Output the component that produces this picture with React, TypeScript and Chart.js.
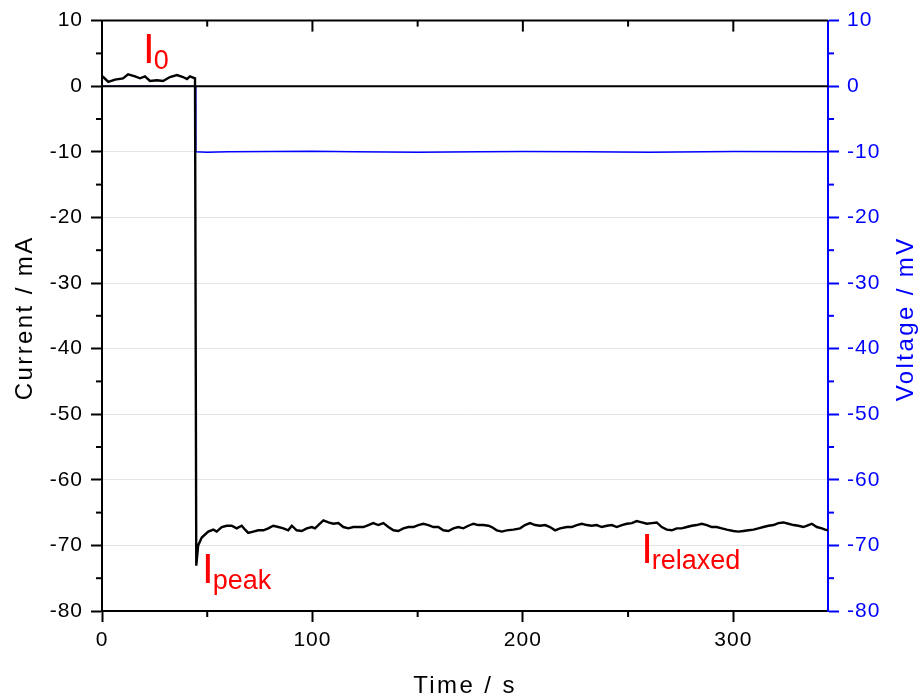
import React, { useEffect, useRef } from "react";
import { Chart, registerables } from "chart.js";

Chart.register(...registerables);

// ---- Data ----
const timeS = [
  0, 0.6, 3.0, 6.2, 10.0, 12.4, 15.7, 18.1, 20.4, 22.8, 26.1, 29.0, 32.3, 35.6, 38.5, 40.4, 41.8, 44.2, 44.6,
  44.8, 45.7, 47.4, 50.5, 52.9, 54.5, 56.9, 59.3, 61.6, 64.0,
  66.4, 68.0, 69.5, 71.9, 74.3, 76.7, 79.0, 81.4, 83.8, 86.2,
  88.5, 90.2, 92.5, 94.9, 97.3, 99.7, 101.2, 102.8, 105.2, 107.6,
  109.9, 112.3, 114.7, 117.1, 119.4, 121.8, 124.2, 126.6, 128.9, 131.3,
  133.7, 136.1, 138.5, 140.8, 143.2, 145.6, 148.0, 150.3, 152.7, 155.1,
  157.5, 159.8, 162.2, 164.6, 167.0, 169.3, 171.7, 174.1, 176.5, 178.8,
  181.2, 183.6, 185.2, 187.6, 190.0, 192.3, 195.5, 198.7, 201.0, 203.4,
  205.8, 208.2, 210.6, 212.9, 215.3, 217.7, 220.9, 223.2, 225.6, 228.0,
  230.4, 232.7, 235.1, 237.5, 239.9, 242.3, 244.6, 247.0, 249.4, 251.8,
  254.1, 256.5, 258.9, 261.3, 263.6, 266.0, 268.4, 270.8, 273.1, 275.5,
  277.9, 280.3, 282.6, 285.0, 287.4, 289.8, 292.1, 294.5, 296.9, 300.0,
  302.4, 304.8, 307.2, 309.6, 311.9, 314.3, 316.7, 319.1, 321.4, 323.8,
  326.2, 328.6, 330.9, 333.3, 335.7, 337.3, 339.7, 342.1, 343.6, 345,
];
const currentMA = [
  1.5, 1.4, 0.65, 1.0, 1.2, 1.8, 1.5, 1.2, 1.5, 0.8, 0.9, 0.8, 1.4, 1.7, 1.4, 1.1, 1.5, 1.2, 1.2,
  -73.1, -70.0, -68.8, -67.9, -67.6, -67.9, -67.2, -67.0, -67.0, -67.4,
  -67.0, -67.6, -68.1, -67.9, -67.7, -67.7, -67.4, -67.0, -67.2, -67.4,
  -67.7, -67.0, -67.7, -67.8, -67.4, -67.2, -67.4, -66.9, -66.2, -66.5,
  -66.7, -66.6, -67.2, -67.4, -67.2, -67.2, -67.2, -66.9, -66.6, -66.9,
  -66.6, -67.2, -67.7, -67.8, -67.4, -67.2, -67.2, -66.9, -66.7, -66.9,
  -67.2, -67.2, -67.7, -67.8, -67.4, -67.2, -67.4, -67.0, -66.7, -66.9,
  -66.9, -67.0, -67.2, -67.7, -67.9, -67.7, -67.6, -67.4, -66.9, -66.6,
  -66.9, -67.0, -66.9, -67.2, -67.7, -67.4, -67.2, -67.2, -66.9, -66.7,
  -66.9, -67.0, -66.9, -67.2, -67.0, -66.9, -67.2, -66.9, -66.7, -66.6,
  -66.3, -66.5, -66.7, -66.6, -66.5, -67.2, -67.6, -67.7, -67.4, -67.4,
  -67.2, -67.0, -66.9, -66.7, -66.9, -67.2, -67.2, -67.4, -67.6, -67.8,
  -67.9, -67.8, -67.7, -67.6, -67.4, -67.2, -67.0, -66.9, -66.6, -66.5,
  -66.7, -66.9, -67.0, -67.2, -66.9, -66.7, -67.2, -67.4, -67.6, -67.7,
];

const voltTimeS = [0, 44.4, 44.6, 50, 60, 80, 100, 120, 150, 180, 200, 230, 260, 300, 345];
const voltageMV = [0, 0, -10.0, -10.05, -10.0, -9.95, -9.9, -10.0, -10.05, -10.0, -9.95, -10.0, -10.05, -9.95, -10.0];

const xRange = [0, 345];
const yRange = [-80, 10];
const zeroLineValue = 0;

const annoMain = ["I", "I", "I"];
const annoSub = ["0", "peak", "relaxed"];
const annoX = [19.5, 47.5, 256.2];
const annoY = [3.5, -75.7, -72.7];

const xTitle = "Time / s";
const yTitle = "Current / mA";
const y2Title = "Voltage / mV";

const FONT = "'Liberation Sans', Arial, sans-serif";
const BLUE = "#0000ff";

const customPlugin = {
  id: "custom",
  beforeDraw(chart: any) {
    (chart.ctx as any).letterSpacing = "1px";
  },
  afterDatasetsDraw(chart: any) {
    const ctx = chart.ctx;
    const { left, right } = chart.chartArea;
    const py = chart.scales.y.getPixelForValue(zeroLineValue);
    ctx.save();
    ctx.strokeStyle = "#000";
    ctx.lineWidth = 2;
    ctx.beginPath();
    ctx.moveTo(left, py);
    ctx.lineTo(right, py);
    ctx.stroke();
    ctx.restore();
  },
  afterDraw(chart: any) {
    const ctx = chart.ctx;
    const { left, right, top, bottom } = chart.chartArea;
    const xs = chart.scales.x;
    const ys = chart.scales.y;
    ctx.save();
    // top border
    ctx.strokeStyle = "#000";
    ctx.lineWidth = 2;
    ctx.beginPath();
    ctx.moveTo(left - 1, top);
    ctx.lineTo(right, top);
    ctx.stroke();

    const mids = (ticks: any[]) => {
      const out: number[] = [];
      for (let i = 0; i < ticks.length - 1; i++) out.push((ticks[i].value + ticks[i + 1].value) / 2);
      if (ticks.length > 1) {
        const step = ticks[1].value - ticks[0].value;
        out.push(ticks[ticks.length - 1].value + step / 2);
      }
      return out;
    };

    const xMinor = mids(xs.ticks).filter((v) => v <= xs.max);
    ctx.lineWidth = 2;
    ctx.strokeStyle = "#000";
    xMinor.forEach((v) => {
      const px = xs.getPixelForValue(v);
      ctx.beginPath();
      ctx.moveTo(px, bottom);
      ctx.lineTo(px, bottom + 6);
      ctx.stroke();
      ctx.beginPath();
      ctx.moveTo(px, top);
      ctx.lineTo(px, top + 6);
      ctx.stroke();
    });
    xs.ticks.forEach((t: any) => {
      if (t.value <= xs.min || t.value >= xs.max) return;
      const px = xs.getPixelForValue(t.value);
      ctx.beginPath();
      ctx.moveTo(px, top);
      ctx.lineTo(px, top + 11);
      ctx.stroke();
    });
    const yMinor = mids(ys.ticks).filter((v) => v < ys.max);
    yMinor.forEach((v) => {
      const py = ys.getPixelForValue(v);
      ctx.strokeStyle = "#000";
      ctx.beginPath();
      ctx.moveTo(left, py);
      ctx.lineTo(left - 6, py);
      ctx.stroke();
      ctx.strokeStyle = BLUE;
      ctx.beginPath();
      ctx.moveTo(right, py);
      ctx.lineTo(right + 6, py);
      ctx.stroke();
    });

    // axis titles
    ctx.letterSpacing = "2.4px";
    ctx.font = `24px ${FONT}`;
    ctx.textAlign = "center";
    ctx.textBaseline = "alphabetic";
    ctx.fillStyle = "#000";
    ctx.fillText(xTitle, (left + right) / 2, 693);
    ctx.save();
    ctx.translate(31.5, (top + bottom) / 2 + 2);
    ctx.rotate(-Math.PI / 2);
    ctx.fillText(yTitle, 0, 0);
    ctx.restore();
    ctx.save();
    ctx.fillStyle = BLUE;
    ctx.translate(913, (top + bottom) / 2 + 3);
    ctx.rotate(-Math.PI / 2);
    ctx.fillText(y2Title, 0, 0);
    ctx.restore();

    // annotations
    ctx.letterSpacing = "0px";
    ctx.fillStyle = "#ff0000";
    ctx.textAlign = "left";
    for (let i = 0; i < annoMain.length; i++) {
      const px = xs.getPixelForValue(annoX[i]);
      const py = ys.getPixelForValue(annoY[i]);
      ctx.font = `42px ${FONT}`;
      ctx.fillText(annoMain[i], px, py);
      const w = ctx.measureText(annoMain[i]).width;
      ctx.font = `27px ${FONT}`;
      ctx.fillText(annoSub[i], px + w - 1, py + 6);
    }
    ctx.restore();
  },
};

export default function App() {
  const ref = useRef<HTMLCanvasElement>(null);
  useEffect(() => {
    if (!ref.current) return;
    const chart = new Chart(ref.current, {
      type: "line",
      data: {
        datasets: [
          {
            label: "Current",
            data: timeS.map((t, i) => ({ x: t, y: currentMA[i] })),
            borderColor: "#000",
            borderWidth: 2.4,
            pointRadius: 0,
            tension: 0,
            yAxisID: "y",
          },
          {
            label: "Voltage",
            data: voltTimeS.map((t, i) => ({ x: t, y: voltageMV[i] })),
            borderColor: BLUE,
            borderWidth: 1.5,
            pointRadius: 0,
            tension: 0,
            yAxisID: "y2",
          },
        ],
      },
      options: {
        responsive: false,
        animation: false,
        devicePixelRatio: 1,
        layout: { padding: { top: 20, left: 0, right: 0, bottom: 0 } },
        plugins: { legend: { display: false }, tooltip: { enabled: false } },
        scales: {
          x: {
            type: "linear",
            position: "bottom",
            min: xRange[0],
            max: xRange[1],
            afterFit: (s: any) => {
              s.height = 84;
            },
            afterBuildTicks: (s: any) => {
              s.ticks = s.ticks.filter((t: any) => t.value % 100 === 0);
            },
            ticks: {
              stepSize: 100,
              color: "#000",
              font: { family: FONT, size: 21 },
              padding: 6,
              maxRotation: 0,
            },
            grid: {
              drawOnChartArea: false,
              drawTicks: true,
              tickLength: 11,
              tickColor: "#000",
              tickWidth: 2,
            },
            border: { color: "#000", width: 2 },
          },
          y: {
            type: "linear",
            position: "left",
            min: yRange[0],
            max: yRange[1],
            afterFit: (s: any) => {
              s.width = 102;
            },
            ticks: {
              stepSize: 10,
              color: "#000",
              font: { family: FONT, size: 21 },
              padding: 8,
            },
            grid: {
              color: (c: any) => (c.tick && (c.tick.value === 0 || c.tick.value === 10) ? "rgba(0,0,0,0)" : "#e4e4e4"),
              lineWidth: 1,
              drawTicks: true,
              tickLength: 11,
              tickColor: "#000",
              tickWidth: 2,
            },
            border: { color: "#000", width: 2 },
          },
          y2: {
            type: "linear",
            position: "right",
            min: yRange[0],
            max: yRange[1],
            afterFit: (s: any) => {
              s.width = 92;
            },
            ticks: {
              stepSize: 10,
              color: BLUE,
              font: { family: FONT, size: 21 },
              padding: 8,
            },
            grid: {
              drawOnChartArea: false,
              drawTicks: true,
              tickLength: 11,
              tickColor: BLUE,
              tickWidth: 2,
            },
            border: { color: BLUE, width: 2 },
          },
        },
      },
      plugins: [customPlugin],
    } as any);
    return () => chart.destroy();
  }, []);
  return (
    <div style={{ position: "fixed", left: 0, top: 0, width: 920, height: 695, background: "#fff" }}>
      <canvas ref={ref} width={920} height={695} style={{ display: "block" }} />
    </div>
  );
}
